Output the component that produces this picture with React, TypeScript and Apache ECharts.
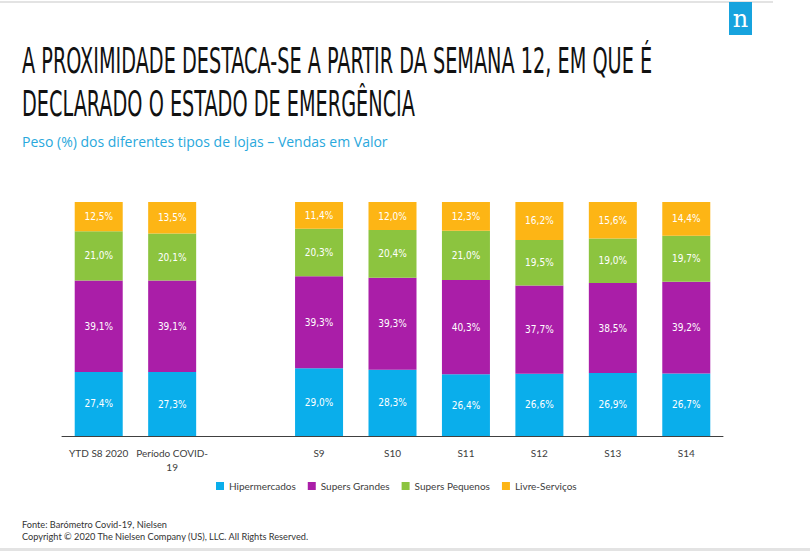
import React, { useEffect, useRef } from "react";
import * as echarts from "echarts";

const categories = ["YTD S8 2020", "Período COVID-19", "", "S9", "S10", "S11", "S12", "S13", "S14"];
const hipermercados = [27.4, 27.3, null, 29.0, 28.3, 26.4, 26.6, 26.9, 26.7];
const supersGrandes = [39.1, 39.1, null, 39.3, 39.3, 40.3, 37.7, 38.5, 39.2];
const supersPequenos = [21.0, 20.1, null, 20.3, 20.4, 21.0, 19.5, 19.0, 19.7];
const livreServicos = [12.5, 13.5, null, 11.4, 12.0, 12.3, 16.2, 15.6, 14.4];

const seriesNames = ["Hipermercados", "Supers Grandes", "Supers Pequenos", "Livre-Serviços"];
const seriesColors = ["#0AAEEB", "#AA1EA8", "#8CC43F", "#FDB515"];

const titleLine1 = "A PROXIMIDADE DESTACA-SE A PARTIR DA SEMANA 12, EM QUE É";
const titleLine2 = "DECLARADO O ESTADO DE EMERGÊNCIA";
const subtitle = "Peso (%) dos diferentes tipos de lojas – Vendas em Valor";
const footer1 = "Fonte: Barómetro Covid-19, Nielsen";
const footer2 = "Copyright © 2020 The Nielsen Company (US), LLC. All Rights Reserved.";

export default function App() {
  const ref = useRef<HTMLDivElement>(null);
  useEffect(() => {
    if (!ref.current) return;
    const chart = echarts.init(ref.current, null, { renderer: "svg" });
    const data = [hipermercados, supersGrandes, supersPequenos, livreServicos];
    const condensed = "'DejaVu Sans Condensed', 'Liberation Sans Narrow', sans-serif";
    const series = data.map((d, i) => ({
      name: seriesNames[i],
      type: "bar",
      stack: "total",
      barWidth: 48,
      data: d,
      itemStyle: { color: seriesColors[i] },
      label: {
        show: true,
        position: "inside",
        color: "#ffffff",
        fontFamily: condensed,
        fontSize: 10,
        formatter: (p: any) => p.value.toFixed(1).replace(".", ",") + "%",
      },
    }));
    chart.setOption({
      animation: false,
      backgroundColor: "#ffffff",
      grid: { left: 62, right: 87, top: 202, bottom: 116 },
      xAxis: {
        type: "category",
        data: categories,
        axisLine: { lineStyle: { color: "#404040", width: 1 } },
        axisTick: { show: false },
        axisLabel: {
          color: "#404040",
          fontFamily: "Lato, sans-serif",
          fontSize: 10,
          margin: 10,
          interval: 0,
          lineHeight: 14,
          formatter: (v: string) => v.replace("COVID-19", "COVID-\n19"),
        },
      },
      yAxis: { type: "value", min: 0, max: 100, show: false },
      legend: {
        data: seriesNames,
        left: 211,
        top: 476,
        icon: "rect",
        itemWidth: 8,
        itemHeight: 8,
        itemGap: 12,
        textStyle: { color: "#404040", fontFamily: "Lato, sans-serif", fontSize: 10 },
      },
      graphic: [
        { type: "rect", shape: { x: 0, y: 1, width: 773, height: 2 }, style: { fill: "#e3e3e3" } },
        { type: "rect", shape: { x: 729, y: 2, width: 23, height: 33 }, style: { fill: "#17A3DE" } },
        {
          type: "text",
          x: 740.5,
          y: 19,
          style: { text: "n", fill: "#ffffff", font: "24px 'DejaVu Serif', serif", align: "center", verticalAlign: "middle" },
        },
        {
          type: "text",
          x: 22,
          y: 61,
          scaleX: 0.612,
          style: { text: titleLine1, fill: "#111111", font: "35px " + condensed, verticalAlign: "middle" },
        },
        {
          type: "text",
          x: 22,
          y: 104,
          scaleX: 0.612,
          style: { text: titleLine2, fill: "#111111", font: "35px " + condensed, verticalAlign: "middle" },
        },
        {
          type: "text",
          x: 22,
          y: 141,
          style: { text: subtitle, fill: "#29A8DC", font: "14px 'Open Sans', sans-serif", verticalAlign: "middle" },
        },
        {
          type: "text",
          x: 22,
          y: 524,
          style: { text: footer1, fill: "#333333", font: "9.2px Lato, sans-serif", verticalAlign: "middle" },
        },
        {
          type: "text",
          x: 22,
          y: 536,
          style: { text: footer2, fill: "#333333", font: "9.2px Lato, sans-serif", verticalAlign: "middle" },
        },
        { type: "rect", shape: { x: 0, y: 548, width: 810, height: 3 }, style: { fill: "#e3e3e3" } },
      ],
      series,
    });
    return () => chart.dispose();
  }, []);
  return <div ref={ref} style={{ position: "absolute", left: 0, top: 0, width: 810, height: 552 }} />;
}
